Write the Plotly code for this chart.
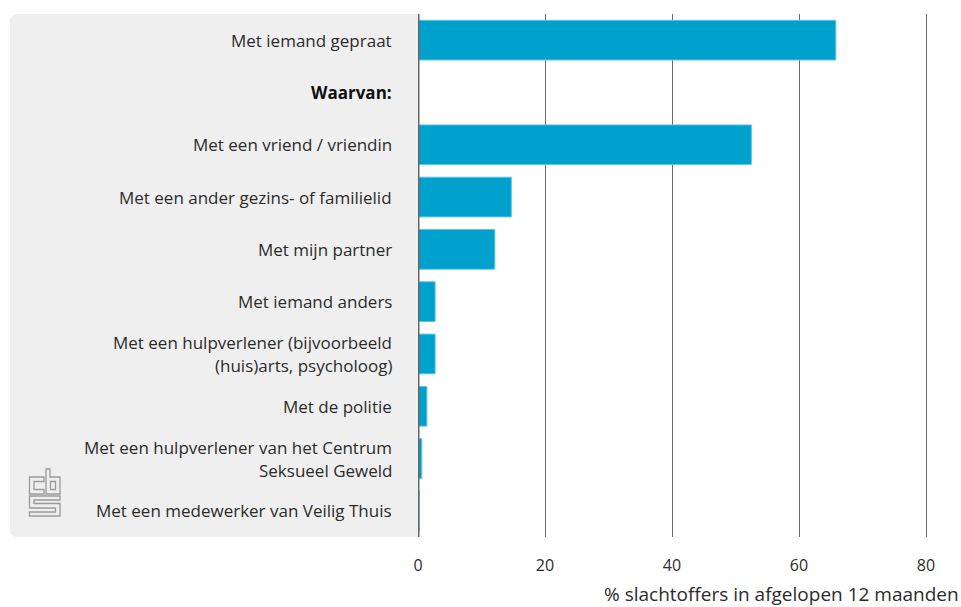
import plotly.graph_objects as go

# Share of victims who talked to someone, by whom (%)
categories = [
    "Met iemand gepraat",
    "Waarvan:",
    "Met een vriend / vriendin",
    "Met een ander gezins- of familielid",
    "Met mijn partner",
    "Met iemand anders",
    "Met een hulpverlener (bijvoorbeeld\n(huis)arts, psycholoog)",
    "Met de politie",
    "Met een hulpverlener van het Centrum\nSeksueel Geweld",
    "Met een medewerker van Veilig Thuis",
]
values = [65.8, None, 52.5, 14.7, 12.1, 2.7, 2.7, 1.4, 0.6, 0.2]
x_ticks = [0, 20, 40, 60, 80]
x_title = "% slachtoffers in afgelopen 12 maanden"

W, H = 961, 607
ML, MR, MT, MB = 418, 3, 14, 70
PW, PH = W - ML - MR, H - MT - MB
FONT = "Open Sans"
TEXT = "#2b2b2b"


def px(x, y):
    """Pixel position -> paper coordinates."""
    return (x - ML) / PW, (H - MB - y) / PH


def path(points):
    return "M " + " L ".join(f"{a:.5f},{b:.5f}" for a, b in (px(*p) for p in points)) + " Z"


fig = go.Figure(
    go.Bar(
        y=categories,
        x=values,
        orientation="h",
        width=0.76,
        marker=dict(color="#00a1cd", line=dict(color="#62c6e2", width=1)),
        hoverinfo="x+y",
    )
)

shapes = []
# grey label panel with rounded left corners
r = 8
x0, y0 = px(10, MT)
x1, y1 = px(ML, H - MB)
rx, ry = r / PW, r / PH
shapes.append(dict(
    type="path", xref="paper", yref="paper", layer="below",
    path=(f"M {x0 + rx},{y0} L {x1},{y0} L {x1},{y1} L {x0 + rx},{y1} "
          f"Q {x0},{y1} {x0},{y1 + ry} L {x0},{y0 - ry} Q {x0},{y0} {x0 + rx},{y0} Z"),
    fillcolor="#efefef", line=dict(width=0),
))
# axis line at zero
shapes.append(dict(type="line", xref="x", yref="paper", x0=0, x1=0, y0=0, y1=1,
                   line=dict(color="#666666", width=3), layer="above"))
# cbs logo outline
logo = dict(color="#9a9a9a", width=1.3)
for pts in [
    [(44, 477), (29.5, 477), (29.5, 494), (44, 494), (44, 489.5), (34, 489.5), (34, 481.5), (44, 481.5)],
    [(46, 469), (50, 469), (50, 477), (60, 477), (60, 494), (46, 494)],
    [(50.5, 481.5), (55.5, 481.5), (55.5, 489.5), (50.5, 489.5)],
    [(29.5, 496), (60, 496), (60, 500), (34, 500), (34, 503.5), (60, 503.5), (60, 516),
     (29.5, 516), (29.5, 512), (55.5, 512), (55.5, 508), (29.5, 508)],
]:
    shapes.append(dict(type="path", xref="paper", yref="paper", path=path(pts),
                       line=logo, fillcolor="rgba(0,0,0,0)"))

annotations = []
lab_x = (394 - ML) / PW
for cat in categories:
    lines = cat.split("\n")
    n = len(lines)
    for i, ln in enumerate(lines):
        bold = ln == "Waarvan:"
        annotations.append(dict(
            x=lab_x, xref="paper", y=cat, yref="y",
            text=f"<b>{ln}</b>" if bold else ln,
            showarrow=False, xanchor="right", yanchor="middle",
            yshift=(n - 1) * 11.5 - i * 23,
            font=dict(family=FONT, size=17, color="#111111" if bold else TEXT),
        ))
annotations.append(dict(
    x=1, xref="paper", y=px(0, 594)[1], yref="paper", text=x_title,
    showarrow=False, xanchor="right", yanchor="middle", xshift=3,
    font=dict(family=FONT, size=19, color=TEXT),
))

fig.update_layout(
    width=W, height=H,
    margin=dict(l=ML, r=MR, t=MT, b=MB, pad=0),
    paper_bgcolor="white", plot_bgcolor="rgba(0,0,0,0)",
    showlegend=False, bargap=0.24,
    shapes=shapes, annotations=annotations,
    font=dict(family=FONT, size=16, color=TEXT),
    xaxis=dict(
        range=[0, PW / 6.35], tickvals=x_ticks, showgrid=True,
        gridcolor="#6a6a6a", gridwidth=1, zeroline=False, showline=False,
        ticks="", ticklabelstandoff=17, tickfont=dict(size=16, color=TEXT),
        fixedrange=True,
    ),
    yaxis=dict(
        categoryorder="array", categoryarray=categories, autorange="reversed",
        showticklabels=False, showgrid=False, zeroline=False, ticks="",
        fixedrange=True,
    ),
)

fig.write_html("out.html")
